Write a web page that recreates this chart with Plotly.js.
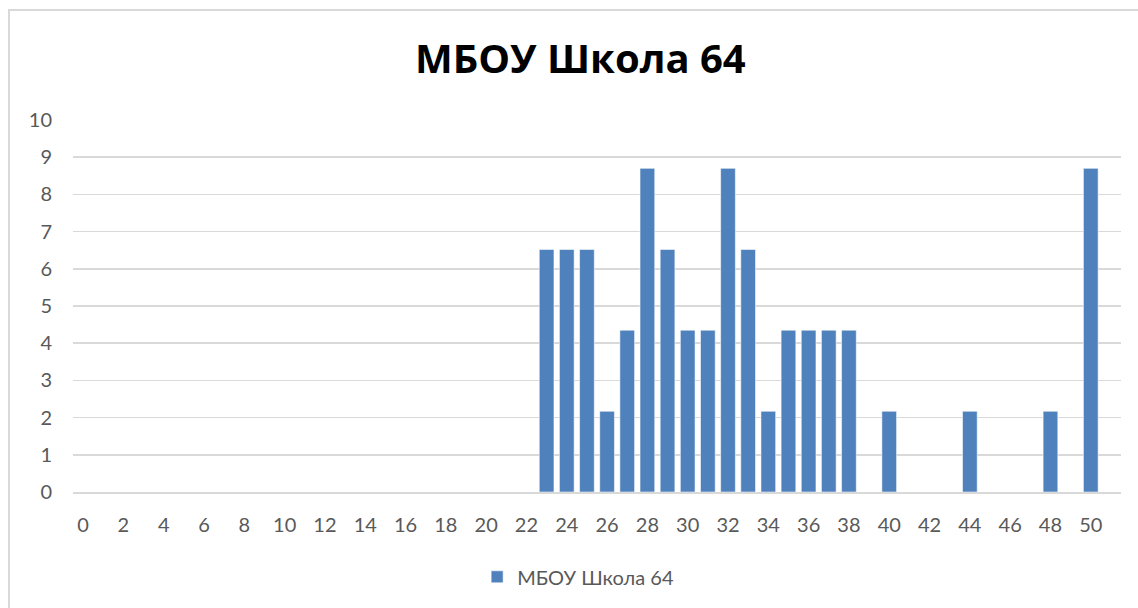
<!DOCTYPE html>
<html>
<head>
<meta charset="utf-8">
<script src="https://cdn.plot.ly/plotly-3.0.1.min.js"></script>
<style>
  html, body { margin: 0; padding: 0; background: #fff; }
  #chart { position: absolute; left: 0; top: 0; width: 1138px; height: 608px; }
  #frame { position: absolute; left: 8px; top: 9px; width: 1140px; height: 610px; border: 2px solid #d9d9d9; box-sizing: border-box; pointer-events: none; }
</style>
</head>
<body>
<div id="chart"></div>
<div id="frame"></div>
<script>
// Data
const seriesName = "МБОУ Школа 64";
const categories = [23, 24, 25, 26, 27, 28, 29, 30, 31, 32, 33, 34, 35, 36, 37, 38, 40, 44, 48, 50];
const values = [6.52, 6.52, 6.52, 2.17, 4.35, 8.70, 6.52, 4.35, 4.35, 8.70, 6.52, 2.17, 4.35, 4.35, 4.35, 4.35, 2.17, 2.17, 2.17, 8.70];
const xTickValues = [0, 2, 4, 6, 8, 10, 12, 14, 16, 18, 20, 22, 24, 26, 28, 30, 32, 34, 36, 38, 40, 42, 44, 46, 48, 50];
const yTickValues = [0, 1, 2, 3, 4, 5, 6, 7, 8, 9, 10];

const font = "Lato, 'Open Sans', sans-serif";

const trace = {
  type: 'bar',
  name: seriesName,
  x: categories,
  y: values,
  width: 0.73,
  marker: { color: '#4f81bd', line: { color: 'rgba(255,255,255,0.55)', width: 1 } },
  showlegend: true,
  hoverinfo: 'x+y'
};

const layout = {
  width: 1138,
  height: 608,
  paper_bgcolor: '#ffffff',
  plot_bgcolor: '#ffffff',
  margin: { l: 73, r: 17, t: 120, b: 116 },
  title: {
    text: '<b>' + seriesName + '</b>',
    font: { family: "'Open Sans', sans-serif", size: 40, color: '#000000' },
    xref: 'container', x: 0.51, xanchor: 'center',
    yref: 'container', y: 0.903, yanchor: 'middle'
  },
  xaxis: {
    type: 'linear',
    range: [-0.5, 51.5],
    tickmode: 'array',
    tickvals: xTickValues,
    ticktext: xTickValues.map(String),
    showgrid: false,
    zeroline: false,
    showline: true,
    linecolor: '#d9d9d9',
    linewidth: 1.5,
    ticks: '',
    ticklabelstandoff: 14,
    tickfont: { family: font, size: 20, color: '#595959' },
    fixedrange: true
  },
  yaxis: {
    range: [0, 10],
    tickmode: 'array',
    tickvals: yTickValues,
    ticktext: yTickValues.map(String),
    showgrid: true,
    gridcolor: '#d9d9d9',
    gridwidth: 1.5,
    zeroline: false,
    showline: false,
    ticks: '',
    ticklabelstandoff: 20,
    tickfont: { family: font, size: 20, color: '#595959' },
    fixedrange: true
  },
  legend: {
    orientation: 'h',
    x: 0.482, xanchor: 'center',
    y: -0.228, yanchor: 'middle',
    font: { family: font, size: 20, color: '#595959' },
    itemwidth: 30
  },
  bargap: 0.27
};

Plotly.newPlot('chart', [trace], layout, { displayModeBar: false, staticPlot: true });
</script>
</body>
</html>
